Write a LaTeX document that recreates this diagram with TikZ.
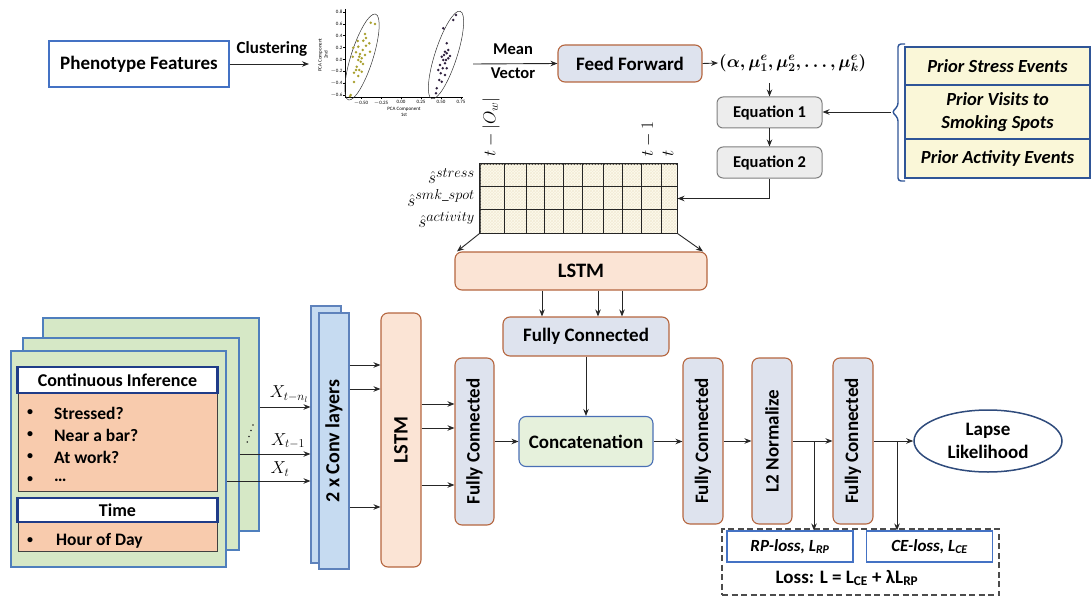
\documentclass[tikz,border=0pt]{standalone}
\usepackage{amsmath,bm}
\usepackage{fontspec}
\setmainfont{Carlito}
\usetikzlibrary{arrows.meta,shapes.geometric,patterns}
\definecolor{phenob}{HTML}{4472C4}
\definecolor{fcfill}{HTML}{DEE3EE}
\definecolor{fcborder}{HTML}{B5663F}
\definecolor{lstmfill}{HTML}{FBE4D5}
\definecolor{eqfill}{HTML}{EDEDED}
\definecolor{eqborder}{HTML}{7F7F7F}
\definecolor{priorfill}{HTML}{FAF7D8}
\definecolor{priorborder}{HTML}{2F5597}
\definecolor{gridfill}{HTML}{FDFAEE}
\definecolor{gridhatch}{HTML}{F3ECD6}
\definecolor{concatfill}{HTML}{E6F1DC}
\definecolor{concatborder}{HTML}{4A6FB5}
\definecolor{convfill}{HTML}{C6DBF1}
\definecolor{convborder}{HTML}{5E82BC}
\definecolor{panelfill}{HTML}{D6E8C6}
\definecolor{panelborder}{HTML}{4F7FBD}
\definecolor{headborder}{HTML}{1F3C88}
\definecolor{orangefill}{HTML}{F8CBAD}
\definecolor{lapseborder}{HTML}{2F4B7C}
\definecolor{olivedot}{HTML}{A89F2E}
\definecolor{darkdot}{HTML}{2E1F3D}
\begin{document}
\begin{tikzpicture}[x=1pt,y=-1pt,
  conn/.style={-{Stealth[length=7pt,width=5.5pt]}, line width=0.9pt, draw=black!85},
  fcbox/.style={draw=fcborder, fill=fcfill, rounded corners=7pt, line width=1.1pt, inner sep=0pt, align=center, font=\fontsize{19}{22}\selectfont\bfseries},
  lstmbox/.style={fcbox, fill=lstmfill},
  eqbox/.style={draw=eqborder, fill=eqfill, rounded corners=6pt, line width=1pt, inner sep=0pt, font=\fontsize{16.5}{19}\selectfont\bfseries},
  priorbox/.style={draw=priorborder, fill=priorfill, line width=1.1pt, inner sep=0pt, align=center, minimum width=185pt, font=\fontsize{18.5}{23}\selectfont\bfseries\itshape},
  panel/.style={draw=panelborder, fill=panelfill, line width=1.1pt, inner sep=0pt},
  headbox/.style={draw=headborder, fill=white, line width=2.6pt, inner sep=0pt, minimum width=200pt, font=\fontsize{18}{20}\selectfont\bfseries},
  bodybox/.style={draw=black!75, fill=orangefill, line width=1pt, inner sep=0pt, minimum width=199pt},
  convbox/.style={draw=convborder, fill=convfill, line width=1.1pt, inner sep=0pt, minimum width=30pt, font=\fontsize{20}{22}\selectfont\bfseries},
  lossbox/.style={draw=phenob, fill=white, line width=1.1pt, inner sep=0pt, minimum width=126pt, minimum height=31pt, font=\fontsize{17}{20}\selectfont\bfseries\itshape},
  txt/.style={inner sep=0pt, font=\fontsize{17.5}{20}\selectfont\bfseries},
  bul/.style={inner sep=0pt, font=\fontsize{12}{14}\selectfont\bfseries},
  tick/.style={inner sep=0pt, font=\fontsize{5}{6}\selectfont},
  mathlbl/.style={inner sep=0pt, font=\fontsize{19}{20}\selectfont},
  xlbl/.style={inner sep=0pt, font=\fontsize{17}{19}\selectfont}
]
\useasboundingbox (0,0) rectangle (1092,599);

% ---------- top row ----------
\node[draw=phenob, fill=white, line width=1.4pt, minimum width=180pt, minimum height=46pt, inner sep=0pt,
      font=\fontsize{19}{22}\selectfont\bfseries] (pheno) at (139,64) {Phenotype Features};
\coordinate (clusterend) at (309,64);
\draw[conn] (pheno.east) -- (clusterend);
\node[inner sep=0pt, font=\fontsize{17}{20}\selectfont\bfseries] (clustlbl) at (272,49) {Clustering};

% scatter plot
\draw[line width=0.5pt] (345,9) -- (345,97) -- (463,97);
\foreach \v/\l [count=\i] in {0.8/0.8,0.6/0.6,0.4/0.4,0.2/0.2,0/0.0,-0.2/$-$0.2,-0.4/$-$0.4,-0.6/$-$0.6}{
  \draw[line width=0.4pt] (343,59.4-59.3*\v) -- (345,59.4-59.3*\v);
  \node[tick, anchor=east] (yt\i) at (342.5,59.4-59.3*\v) {\l};
}
\foreach \v/\l [count=\i] in {-0.5/$-$0.50,-0.25/$-$0.25,0/0.00,0.25/0.25,0.5/0.50,0.75/0.75}{
  \draw[line width=0.4pt] (401+80*\v,97) -- (401+80*\v,99);
  \node[tick, anchor=north] (xt\i) at (401+80*\v,100.5) {\l};
}
\node[tick, align=center] (xlab) at (404,111.5) {PCA Component\\1st};
\node[tick, align=center, rotate=90] (ylab) at (323,55) {PCA Component\\2nd};
\draw[line width=0.5pt, black!80, rotate around={72.4:(362,57)}] (362,57) ellipse [x radius=45pt, y radius=11pt];
\draw[line width=0.5pt, black!80, rotate around={72:(446,55)}] (446,55) ellipse [x radius=46pt, y radius=11pt];
\foreach \p in {(370.7,22.7),(375,24),(365,34),(357.7,41),(363.3,40.7),(369.3,43.3),(358.3,46.7),(366,45.7),(353.3,47.7),(362.7,50),(370,51.7),(356,52.3),(360,54),(365,55),(359.3,56.7),(361.7,58.3),(358.3,60),(360.7,61.7),(352.7,56.7),(356,70),(359.3,70),(354,72.7),(356.7,66.7),(361.7,71.7),(358.3,76),(354,82),(350,96.3),(350.7,95),(363,64),(366,38)}
  \fill[olivedot] \p circle (1.4pt);
\foreach \p in {(456,15),(453.3,20),(443.3,28.3),(446.7,43.3),(448.3,50),(445,51.7),(446.7,53.3),(441.7,56.7),(443.3,60),(448.3,58.3),(445,63.3),(440,65),(442.7,68.3),(446.7,68.3),(438.3,70),(440.7,73.3),(445,75),(439.3,80),(441.7,81.7),(436.7,88.3),(436,93.3),(444,55),(446,60),(450,56)}
  \fill[darkdot] \p circle (1.4pt);

\node[fcbox, minimum width=144pt, minimum height=37pt] (ff) at (630,63.5) {Feed Forward};
\coordinate (meanstart) at (473,64);
\draw[conn] (meanstart) -- (ff.west);
\node[inner sep=0pt, font=\fontsize{16.5}{19}\selectfont\bfseries] (meanlbl) at (513,49) {Mean};
\node[inner sep=0pt, font=\fontsize{16.5}{19}\selectfont\bfseries] (veclbl) at (513,73) {Vector};

\node[inner sep=1pt, anchor=west, font=\fontsize{18}{24}\selectfont] (tuple) at (718,63) {$\bm{(\alpha,\mu^e_1,\mu^e_2,\ldots,\mu^e_k)}$};
\draw[conn] (ff.east) -- (tuple.west);

\node[eqbox, minimum width=105pt, minimum height=31pt] (eq1) at (769.5,112.5) {Equation 1};
\node[eqbox, minimum width=105pt, minimum height=31pt] (eq2) at (769.5,162.5) {Equation 2};
\draw[conn] (eq1.north |- 0,83) -- (eq1.north);
\draw[conn] (eq1.south) -- (eq2.north);

% prior boxes and brace
\node[priorbox, minimum height=38pt] (prA) at (997.5,66) {Prior Stress Events};
\node[priorbox, minimum height=54pt] (prB) at (997.5,112) {Prior Visits to\\Smoking Spots};
\node[priorbox, minimum height=39pt] (prC) at (997.5,158.5) {Prior Activity Events};
\draw[priorborder, line width=1.4pt, rounded corners=3pt] (905,44) -- (898,44) -- (898,106) -- (892,112) -- (898,118) -- (898,181) -- (905,181);
\coordinate (bracetip) at (891,112);
\draw[conn] (bracetip) -- (eq1.east |- bracetip);

% grid
\node[draw=black!85, line width=1pt, fill=gridfill, minimum width=197pt, minimum height=69pt, inner sep=0pt] (grid) at (578.5,198.5) {};
\fill[pattern=crosshatch, pattern color=gridhatch] (480.5,164.5) rectangle (676.5,232.5);
\foreach \x in {504,526,544,563,582,603,622,641,661} \draw[line width=0.9pt, black!85] (\x,164) -- (\x,233);
\foreach \y in {186,209} \draw[line width=0.9pt, black!85] (480,\y) -- (677,\y);
\draw[black!85, line width=1pt] (grid.north west) rectangle (grid.south east);
\node[mathlbl, anchor=east] (rs1) at (475,176) {$\hat{s}^{stress}$};
\node[mathlbl, anchor=east] (rs2) at (475,198) {$\hat{s}^{smk\_spot}$};
\node[mathlbl, anchor=east] (rs3) at (475,220) {$\hat{s}^{activity}$};
\node[inner sep=0pt, anchor=west, rotate=90, font=\fontsize{17}{19}\selectfont] (tow) at (491,157) {$t-|O_w|$};
\node[inner sep=0pt, anchor=west, rotate=90, font=\fontsize{17}{19}\selectfont] (tm1) at (648,157) {$t-1$};
\node[inner sep=0pt, anchor=west, rotate=90, font=\fontsize{17}{19}\selectfont] (tt) at (668,157) {$t$};
\draw[conn] (eq2.south) |- (grid.east);

% top LSTM and FC
\node[lstmbox, minimum width=252pt, minimum height=38pt, font=\fontsize{20.5}{22}\selectfont\bfseries] (lstmT) at (581,271) {LSTM};
\draw[conn] (grid.south west) -- (457,0 |- lstmT.north);
\draw[conn] (grid.south east) -- (703,0 |- lstmT.north);
\node[fcbox, minimum width=166pt, minimum height=39pt] (fcT) at (586,336.5) {Fully Connected};
\foreach \x in {542,598,622} \draw[conn] (\x,0 |- lstmT.south) -- (\x,0 |- fcT.north);
\node[draw=concatborder, fill=concatfill, rounded corners=7pt, line width=1.1pt, inner sep=0pt,
      minimum width=134pt, minimum height=50pt, font=\fontsize{19}{22}\selectfont\bfseries] (concat) at (586,441.5) {Concatenation};
\draw[conn] (fcT.south) -- (concat.north);

% left stack of panels
\node[panel, minimum width=216pt, minimum height=213pt] (panB) at (151,424.5) {};
\node[panel, minimum width=216pt, minimum height=212pt] (panM) at (131,444) {};
\node[panel, minimum width=215pt, minimum height=216pt] (panF) at (118.5,459) {};
\node[bodybox, minimum height=98pt] (body1) at (117.5,442) {};
\node[headbox, minimum height=26pt] (head1) at (117.5,380) {Continuous Inference};
\node[bodybox, minimum height=29pt] (body2) at (117.5,536.5) {};
\node[headbox, minimum height=24pt] (head2) at (117.5,510) {Time};
\foreach \y/\t [count=\i] in {413/Stressed?,435/Near a bar?,457/At work?}{
  \node[bul] (bul\i) at (30,\y) {•};
  \node[txt, anchor=west] (item\i) at (54,\y) {\t};
}
\node[bul] (bul4) at (30,480) {•};
\node[txt, anchor=west] (item4) at (54,480) {\ldots};
\node[bul] (bul5) at (30,541) {•};
\node[txt, anchor=west] (item5) at (56,541) {Hour of Day};
\foreach \p in {(247.3,442),(249,436.5),(251,430.5),(253,425)} \fill[black!85] \p circle (0.9pt);

% conv layers
\node[convbox, minimum height=257pt] (convB) at (326,434.5) {};
\node[convbox, minimum height=256pt] (convF) at (334,441) {\rotatebox{90}{2 x Conv layers}};
\draw[conn] (panB.east |- 0,407) -- (convB.west |- 0,407);
\draw[conn] (panM.east |- 0,454) -- (convB.west |- 0,454);
\draw[conn] (panF.east |- 0,481) -- (convB.west |- 0,481);
\node[xlbl] (xn) at (289,394) {$X_{t-n_l}$};
\node[xlbl] (x1) at (288,441) {$X_{t-1}$};
\node[xlbl] (x0) at (280,469) {$X_t$};

\node[lstmbox, minimum width=40pt, minimum height=254pt, font=\fontsize{20.5}{22}\selectfont\bfseries] (lstmV) at (401,440) {\rotatebox{90}{LSTM}};
\foreach \y in {365,389,507} \draw[conn] (convF.east |- 0,\y) -- (lstmV.west |- 0,\y);
\node[fcbox, minimum width=39pt, minimum height=167pt] (fcL) at (474.5,441.5) {\rotatebox{90}{Fully Connected}};
\foreach \y in {404,428,485} \draw[conn] (lstmV.east |- 0,\y) -- (fcL.west |- 0,\y);
\draw[conn] (fcL.east |- concat.west) -- (concat.west);

% right side
\node[fcbox, minimum width=40pt, minimum height=166pt] (fc2) at (703,441) {\rotatebox{90}{Fully Connected}};
\node[fcbox, minimum width=40pt, minimum height=166pt] (l2) at (772,441) {\rotatebox{90}{L2 Normalize}};
\node[fcbox, minimum width=40pt, minimum height=166pt] (fc3) at (853,441) {\rotatebox{90}{Fully Connected}};
\node[draw=lapseborder, fill=white, ellipse, line width=1.5pt, minimum width=148pt, minimum height=62pt, inner sep=0pt,
      align=center, font=\fontsize{19}{23}\selectfont\bfseries] (lapse) at (988,441) {Lapse\\Likelihood};
\draw[conn] (concat.east) -- (fc2.west |- concat.east);
\draw[conn] (fc2.east) -- (l2.west);
\draw[conn] (l2.east) -- (fc3.west);
\draw[conn] (fc3.east) -- (lapse.west);

\node[draw=black!70, dash pattern=on 6pt off 3.5pt, line width=1.2pt, minimum width=277pt, minimum height=66pt, inner sep=0pt] (lossall) at (860.5,562) {};
\node[lossbox] (rp) at (790,546.5) {RP-loss, L\textsubscript{RP}};
\node[lossbox] (ce) at (929.5,546.5) {CE-loss, L\textsubscript{CE}};
\node[inner sep=0pt, font=\fontsize{19}{22}\selectfont\bfseries] (losstxt) at (847,578) {Loss: L = L\textsubscript{CE} + λL\textsubscript{RP}};
\coordinate (b1) at (814,441);
\coordinate (b2) at (897,441);
\draw[conn] (b1) -- (b1 |- rp.north);
\draw[conn] (b2) -- (b2 |- ce.north);
\end{tikzpicture}
\end{document}
